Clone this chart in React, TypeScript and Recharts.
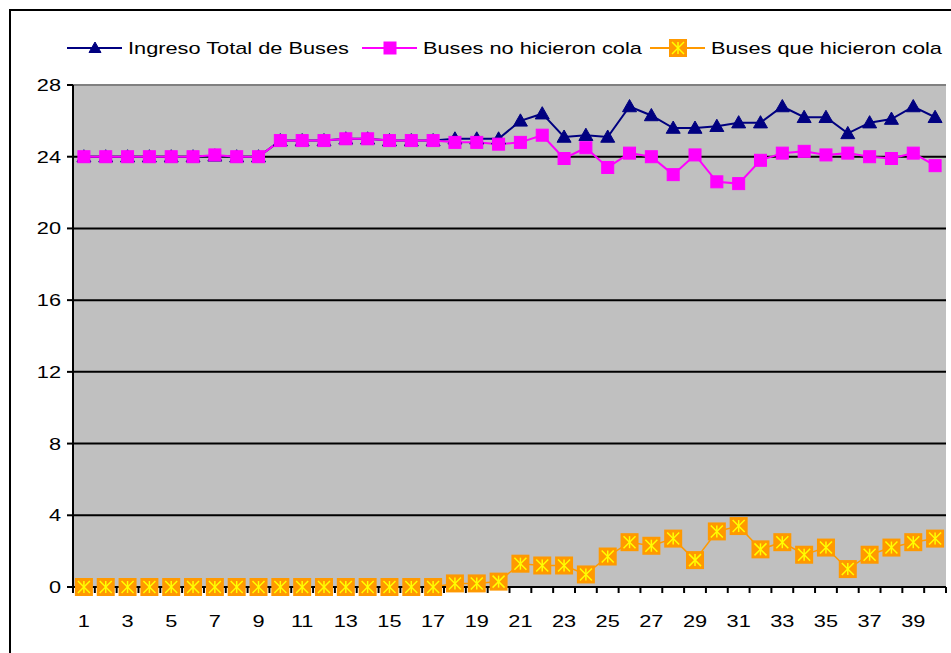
import React from "react";
import { LineChart, Line, XAxis, YAxis, CartesianGrid, ReferenceLine } from "recharts";

const categories = ["1","2","3","4","5","6","7","8","9","10","11","12","13","14","15","16","17","18","19","20","21","22","23","24","25","26","27","28","29","30","31","32","33","34","35","36","37","38","39","40"];
const ingresoTotal = [24,24,24,24,24,24,24.05,24,24,24.9,24.9,24.9,25,25,24.9,24.9,24.9,25,25,25,26,26.4,25.1,25.2,25.1,26.8,26.3,25.6,25.6,25.7,25.9,25.9,26.8,26.2,26.2,25.3,25.9,26.1,26.8,26.2];
const noCola = [24,24,24,24,24,24,24.1,24,24,24.9,24.9,24.9,25,25,24.9,24.9,24.9,24.8,24.8,24.7,24.8,25.2,23.9,24.5,23.4,24.2,24,23,24.1,22.6,22.5,23.8,24.2,24.3,24.1,24.2,24,23.9,24.2,23.5];
const siCola = [0,0,0,0,0,0,0,0,0,0,0,0,0,0,0,0,0,0.2,0.2,0.3,1.3,1.2,1.2,0.7,1.7,2.5,2.3,2.7,1.5,3.1,3.4,2.1,2.5,1.8,2.2,1.0,1.8,2.2,2.5,2.7];
const yTicks = [0,4,8,12,16,20,24,28];
const seriesNames = ["Ingreso Total de Buses", "Buses no hicieron cola", "Buses que hicieron cola"];

const data = categories.map((c, i) => ({ cat: c, total: ingresoTotal[i], no: noCola[i], si: siCola[i] }));

const W = 951, H = 653;
const M = { top: 85, right: 5, bottom: 36, left: 33 };
const YW = 40;
const PLOT_W = W - M.left - YW - M.right;
const BAND = PLOT_W / categories.length;
const FONT = "'Liberation Sans', Arial, sans-serif";
const FS = 17;
const SX = 1.28;
const NAVY = "#000080", MAG = "#FF00FF", ORG = "#FF9900", YEL = "#FFFF00";

const SText = ({ x, y, anchor = "start", children }: any) => (
  <text transform={`translate(${x},${y}) scale(${SX},1)`} x={0} y={0} textAnchor={anchor}
    fontFamily={FONT} fontSize={FS} fill="#000">{children}</text>
);

const Tri = ({ cx, cy, s = 7 }: any) => (
  <polygon points={`${cx},${cy - s} ${cx + s},${cy + s * 0.75} ${cx - s},${cy + s * 0.75}`} fill={NAVY} stroke={NAVY} />
);
const Sq = ({ cx, cy, s = 6 }: any) => (
  <rect x={cx - s} y={cy - s} width={2 * s} height={2 * s} fill={MAG} stroke={MAG} />
);
const Ast = ({ cx, cy, s = 9 }: any) => (
  <g>
    <rect x={cx - s} y={cy - s} width={2 * s} height={2 * s} fill={ORG} />
    <line x1={cx} y1={cy - s + 3} x2={cx} y2={cy + s - 3} stroke={YEL} strokeWidth={1.5} />
    <line x1={cx - s + 3} y1={cy - s + 3} x2={cx + s - 3} y2={cy + s - 3} stroke={YEL} strokeWidth={1.5} />
    <line x1={cx + s - 3} y1={cy - s + 3} x2={cx - s + 3} y2={cy + s - 3} stroke={YEL} strokeWidth={1.5} />
  </g>
);

const XTick = (props: any) => {
  const { x, y, index, payload } = props;
  const half = BAND / 2;
  return (
    <g>
      <line x1={x - half} x2={x - half} y1={y} y2={y + 6} stroke="#000" strokeWidth={2} />
      {index === categories.length - 1 && (
        <line x1={x + half} x2={x + half} y1={y} y2={y + 6} stroke="#000" strokeWidth={2} />
      )}
      {index % 2 === 0 && <SText x={x} y={y + 40} anchor="middle">{payload.value}</SText>}
    </g>
  );
};

const YTick = (props: any) => {
  const { x, y, payload } = props;
  return <SText x={x} y={y + 6} anchor="end">{payload.value}</SText>;
};

const LegendItem = ({ x, color, marker, label }: any) => (
  <g>
    <line x1={x} x2={x + 55} y1={48} y2={48} stroke={color} strokeWidth={2} />
    {marker(x + 28, 48)}
    <SText x={x + 61} y={54}>{label}</SText>
  </g>
);

export default function App() {
  return (
    <div style={{ position: "absolute", left: 0, top: 0, width: W, height: H, background: "#fff", overflow: "hidden" }}>
      <div style={{ position: "absolute", left: 9, top: 9, width: 960, height: 700, border: "2px solid #000", boxSizing: "border-box" }} />
      <div style={{ position: "absolute", left: 0, top: 0 }}>
        <LineChart width={W} height={H} data={data} margin={M}>
          <CartesianGrid fill="#C0C0C0" vertical={false} stroke="#000" strokeWidth={2} horizontalValues={[4, 8, 12, 16, 20, 24]} />
          <ReferenceLine y={28} stroke="#808080" strokeWidth={2} />
          <XAxis dataKey="cat" interval={0} tickSize={0} tickMargin={0} stroke="#000" strokeWidth={2}
            padding={{ left: BAND / 2, right: BAND / 2 }} tick={<XTick />} height={30} />
          <YAxis domain={[0, 28]} ticks={yTicks} width={YW} stroke="#000" strokeWidth={2} tickSize={6} tickMargin={6}
            tick={<YTick />} />
          <YAxis yAxisId="r" orientation="right" width={0} domain={[0, 28]} stroke="#808080" strokeWidth={2} tick={false} tickLine={false} />
          <Line dataKey="total" name={seriesNames[0]} stroke={NAVY} strokeWidth={2} isAnimationActive={false}
            dot={(p: any) => <Tri key={"t" + p.index} cx={p.cx} cy={p.cy} />} />
          <Line dataKey="no" name={seriesNames[1]} stroke={MAG} strokeWidth={2} isAnimationActive={false}
            dot={(p: any) => <Sq key={"s" + p.index} cx={p.cx} cy={p.cy} />} />
          <Line dataKey="si" name={seriesNames[2]} stroke={ORG} strokeWidth={1.5} isAnimationActive={false}
            dot={(p: any) => <Ast key={"a" + p.index} cx={p.cx} cy={p.cy} />} />
        </LineChart>
      </div>
      <svg style={{ position: "absolute", left: 0, top: 0 }} width={W} height={80}>
        <LegendItem x={67} color={NAVY} label={seriesNames[0]} marker={(cx: number, cy: number) => <Tri cx={cx} cy={cy} s={6} />} />
        <LegendItem x={362} color={MAG} label={seriesNames[1]} marker={(cx: number, cy: number) => <Sq cx={cx} cy={cy} s={6} />} />
        <LegendItem x={650} color={ORG} label={seriesNames[2]} marker={(cx: number, cy: number) => <Ast cx={cx} cy={cy} s={9} />} />
      </svg>
    </div>
  );
}
